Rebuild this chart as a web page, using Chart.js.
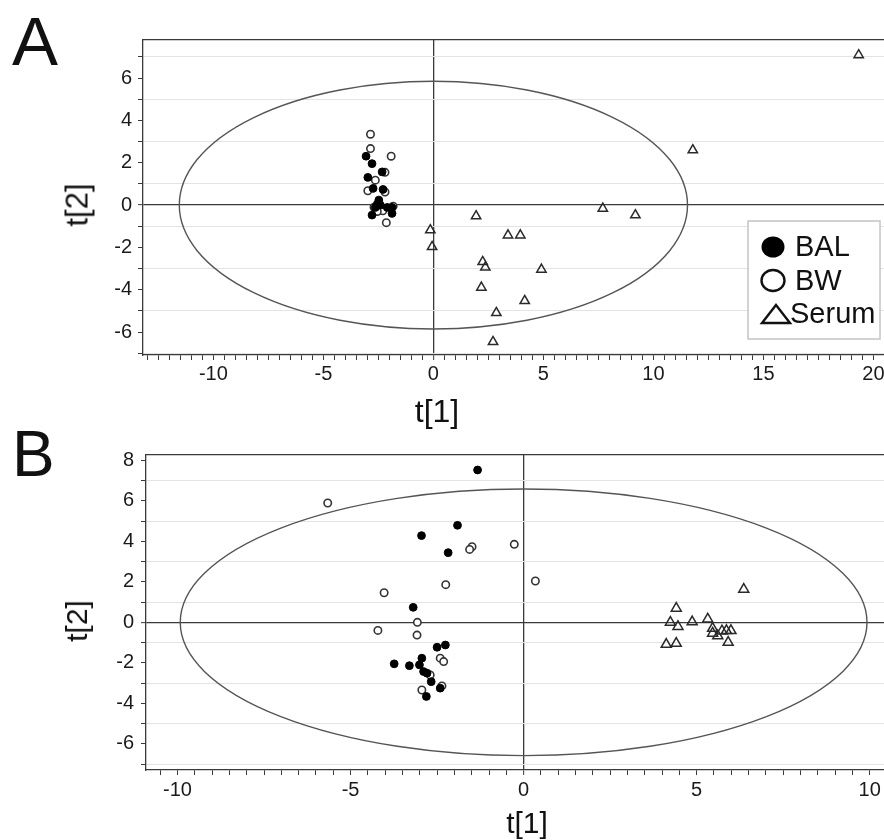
<!DOCTYPE html>
<html>
<head>
<meta charset="utf-8">
<title>PCA score plots</title>
<script src="https://cdn.jsdelivr.net/npm/chart.js@4.4.1/dist/chart.umd.min.js"></script>
<style>
  html, body { margin: 0; padding: 0; background: #fff; }
  body { width: 884px; height: 840px; overflow: hidden; position: relative; font-family: "Liberation Sans", Arial, sans-serif; color: #111; }
  .panel { position: absolute; left: 0; width: 912px; height: 420px; }
  .txt { position: absolute; line-height: 1; white-space: nowrap; }
  .mid { transform: translate(-50%, -50%); }
  .rot { transform: translate(-50%, -50%) rotate(-90deg); }
</style>
</head>
<body>
<div class="panel" style="top:0"><canvas id="chartA"></canvas></div>
<div class="panel" style="top:420px"><canvas id="chartB"></canvas></div>
<div class="txt" style="left:12px; top:7px; font-size:69px">A</div>
<div class="txt" style="left:12px; top:422px; font-size:64px">B</div>
<div class="txt mid" style="left:437px; top:411px; font-size:32px">t[1]</div>
<div class="txt rot" style="left:77px; top:205px; font-size:31px">t[2]</div>
<div class="txt mid" style="left:527px; top:823px; font-size:30px">t[1]</div>
<div class="txt rot" style="left:77px; top:621px; font-size:30px">t[2]</div>
<script>
// Panel A scores
const balA_t1 = [-3.06, -2.79, -2.33, -2.98, -2.74, -2.29, -2.48, -2.41, -2.64, -2.10, -1.88, -2.79, -1.88, -2.55]
const balA_t2 = [2.31, 1.96, 1.57, 1.31, 0.79, 0.74, 0.24, 0.00, -0.11, -0.11, -0.11, -0.47, -0.39, 0.05]
const bwA_t1 = [-2.86, -2.86, -1.92, -2.20, -2.64, -2.98, -2.20, -2.70, -2.45, -2.30, -1.83, -2.14, -2.55]
const bwA_t2 = [3.35, 2.67, 2.31, 1.55, 1.18, 0.68, 0.62, -0.10, -0.24, -0.27, -0.05, -0.83, -0.30]
const serumA_t1 = [19.33, 11.79, 7.70, 9.18, 1.94, -0.14, -0.06, 3.39, 3.95, 2.24, 2.36, 4.91, 2.18, 4.15, 2.86, 2.71]
const serumA_t2 = [7.09, 2.60, -0.16, -0.47, -0.52, -1.18, -1.97, -1.42, -1.42, -2.68, -2.94, -3.04, -3.89, -4.52, -5.09, -6.46]
const ellipseA = [11.55, 5.85]
const xTickLabelsA = [-10, -5, 0, 5, 10, 15, 20]
const yTickLabelsA = [-6, -4, -2, 0, 2, 4, 6]

// Panel B scores
const balB_t1 = [-1.33, -1.91, -2.95, -2.18, -3.19, -2.50, -2.26, -3.74, -3.30, -3.01, -2.94, -2.89, -2.79, -2.67, -2.81, -2.41]
const balB_t2 = [7.52, 4.79, 4.28, 3.44, 0.74, -1.23, -1.12, -2.05, -2.14, -2.10, -1.77, -2.43, -2.51, -2.93, -3.66, -3.25]
const bwB_t1 = [-5.66, -4.03, -4.21, -3.07, -3.08, -2.25, -1.49, -1.56, -0.27, 0.34, -2.41, -2.31, -2.70, -2.94, -2.36]
const bwB_t2 = [5.89, 1.46, -0.40, 0.00, -0.63, 1.86, 3.73, 3.60, 3.85, 2.04, -1.77, -1.94, -2.60, -3.34, -3.14]
const serumB_t1 = [6.36, 4.41, 4.24, 4.46, 4.87, 5.32, 5.46, 5.46, 5.61, 5.73, 5.86, 5.99, 5.91, 4.12, 4.41]
const serumB_t2 = [1.63, 0.69, 0.00, -0.21, 0.02, 0.16, -0.30, -0.54, -0.67, -0.43, -0.41, -0.41, -0.99, -1.09, -1.04]
const ellipseB = [9.92, 6.58]
const xTickLabelsB = [-10, -5, 0, 5, 10]
const yTickLabelsB = [-6, -4, -2, 0, 2, 4, 6, 8]

Chart.defaults.font.family = '"Liberation Sans", Arial, sans-serif'
Chart.defaults.color = "#222"

const dark = "#3a3a3a"
const pts = (xs, ys) => xs.map((x, i) => ({ x, y: ys[i] }))

// Hotelling T2 ellipse, centred on the origin
const hotellingEllipse = {
  id: "hotellingEllipse",
  beforeDatasetsDraw(chart, args, opts) {
    const { ctx, chartArea, scales: { x, y } } = chart
    const cx = x.getPixelForValue(0)
    const cy = y.getPixelForValue(0)
    const rx = x.getPixelForValue(opts.radii[0]) - cx
    const ry = cy - y.getPixelForValue(opts.radii[1])
    ctx.save()
    ctx.beginPath()
    ctx.rect(chartArea.left, chartArea.top, chartArea.width, chartArea.height)
    ctx.clip()
    ctx.beginPath()
    ctx.ellipse(cx, cy, rx, ry, 0, 0, Math.PI * 2)
    ctx.strokeStyle = "#555"
    ctx.lineWidth = 1.4
    ctx.stroke()
    ctx.restore()
  },
}

// boxed legend sitting inside the plot
const insetLegend = {
  id: "insetLegend",
  afterDraw(chart, args, opts) {
    if (!opts.show) return
    const ctx = chart.ctx
    const { left, top, width, height } = opts.box
    ctx.save()
    ctx.fillStyle = "#fff"
    ctx.fillRect(left, top, width, height)
    ctx.strokeStyle = "#c4c4c4"
    ctx.lineWidth = 1.5
    ctx.strokeRect(left, top, width, height)
    ctx.font = '29px "Liberation Sans", Arial, sans-serif'
    ctx.textBaseline = "alphabetic"
    chart.data.datasets.forEach((ds, i) => {
      const cy = top + 26 + i * 33.5
      const sx = left + 25
      ctx.lineWidth = 2.4
      ctx.strokeStyle = "#111"
      ctx.beginPath()
      if (ds.pointStyle === "triangle") {
        ctx.moveTo(sx + 3, cy - 9)
        ctx.lineTo(sx + 17, cy + 9)
        ctx.lineTo(sx - 11, cy + 9)
        ctx.closePath()
        ctx.stroke()
      } else {
        ctx.ellipse(sx, cy, 11.5, 10.5, 0, 0, Math.PI * 2)
        if (ds.label === "BAL") {
          ctx.fillStyle = "#000"
          ctx.fill()
        } else {
          ctx.stroke()
        }
      }
      ctx.fillStyle = "#111"
      ctx.fillText(ds.label, ds.pointStyle === "triangle" ? left + 42 : left + 47, cy + 9)
    })
    ctx.restore()
  },
}

function makeChart(id, p) {
  return new Chart(document.getElementById(id), {
    type: "scatter",
    data: {
      datasets: [
        {
          label: "BAL",
          data: pts(p.bal[0], p.bal[1]),
          pointStyle: "circle",
          pointRadius: 3.9,
          pointBackgroundColor: "#000",
          pointBorderColor: "#000",
          pointBorderWidth: 1,
        },
        {
          label: "BW",
          data: pts(p.bw[0], p.bw[1]),
          pointStyle: "circle",
          pointRadius: 3.7,
          pointBackgroundColor: "#fff",
          pointBorderColor: "#333",
          pointBorderWidth: 1.6,
        },
        {
          label: "Serum",
          data: pts(p.serum[0], p.serum[1]),
          pointStyle: "triangle",
          pointRadius: p.triRadius,
          pointBackgroundColor: "rgba(255,255,255,0)",
          pointBorderColor: "#2a2a2a",
          pointBorderWidth: 1.5,
        },
      ],
    },
    options: {
      responsive: true,
      maintainAspectRatio: false,
      animation: false,
      layout: { padding: { top: p.top, left: 0, right: 0, bottom: 0 } },
      scales: {
        x: {
          type: "linear",
          position: "bottom",
          min: p.xRange[0],
          max: p.xRange[1],
          afterFit: (s) => { s.height = p.xAxisHeight },
          border: { color: dark, width: 1.3 },
          grid: {
            color: (c) => (c.tick && c.tick.value === 0 ? dark : "rgba(0,0,0,0)"),
            lineWidth: (c) => (c.tick && c.tick.value === 0 ? 1.3 : 1),
            tickColor: dark,
            tickLength: 5,
            tickWidth: 1,
          },
          ticks: {
            stepSize: 0.5,
            includeBounds: false,
            autoSkip: false,
            maxRotation: 0,
            padding: p.xPad,
            color: "#1a1a1a",
            font: { size: 20 },
            callback: (v) => (p.xLabels.includes(v) ? String(v) : ""),
          },
        },
        xTop: {
          type: "linear",
          position: "top",
          min: p.xRange[0],
          max: p.xRange[1],
          afterFit: (s) => { s.height = 0 },
          border: { color: dark, width: 1.3 },
          grid: { drawOnChartArea: false, drawTicks: false },
          ticks: { display: false },
        },
        y: {
          type: "linear",
          min: p.yRange[0],
          max: p.yRange[1],
          afterFit: (s) => { s.width = p.yAxisWidth },
          border: { color: dark, width: 1.3 },
          grid: {
            color: (c) => {
              if (!c.tick) return "rgba(0,0,0,0)"
              const v = c.tick.value
              if (v === 0) return dark
              return Math.abs(v) % 2 === 1 ? "#e3e3e3" : "rgba(0,0,0,0)"
            },
            lineWidth: (c) => (c.tick && c.tick.value === 0 ? 1.3 : 1),
            tickColor: dark,
            tickLength: 5,
            tickWidth: 1,
          },
          ticks: {
            stepSize: 1,
            includeBounds: false,
            autoSkip: false,
            padding: p.yPad,
            color: "#1a1a1a",
            font: { size: 20 },
            callback: (v) => (p.yLabels.includes(v) ? String(v) : ""),
          },
        },
      },
      plugins: {
        legend: { display: false },
        tooltip: { enabled: false },
        hotellingEllipse: { radii: p.ellipse },
        insetLegend: { show: p.legend, box: { left: 748, top: 221, width: 132, height: 118 } },
      },
    },
    plugins: [hotellingEllipse, insetLegend],
  })
}

makeChart("chartA", {
  bal: [balA_t1, balA_t2],
  bw: [bwA_t1, bwA_t2],
  serum: [serumA_t1, serumA_t2],
  ellipse: ellipseA,
  xLabels: xTickLabelsA,
  yLabels: yTickLabelsA,
  xRange: [-13.2, 21.44],
  yRange: [-7.08, 7.8],
  top: 40,
  xAxisHeight: 65,
  yAxisWidth: 143,
  xPad: 2,
  yPad: 6,
  triRadius: 5.4,
  legend: true,
})

makeChart("chartB", {
  bal: [balB_t1, balB_t2],
  bw: [bwB_t1, bwB_t2],
  serum: [serumB_t1, serumB_t2],
  ellipse: ellipseB,
  xLabels: xTickLabelsB,
  yLabels: yTickLabelsB,
  xRange: [-10.91, 11.01],
  yRange: [-7.29, 8.26],
  top: 35,
  xAxisHeight: 70,
  yAxisWidth: 146,
  xPad: 3,
  yPad: 7,
  triRadius: 5.8,
  legend: false,
})
</script>
</body>
</html>
